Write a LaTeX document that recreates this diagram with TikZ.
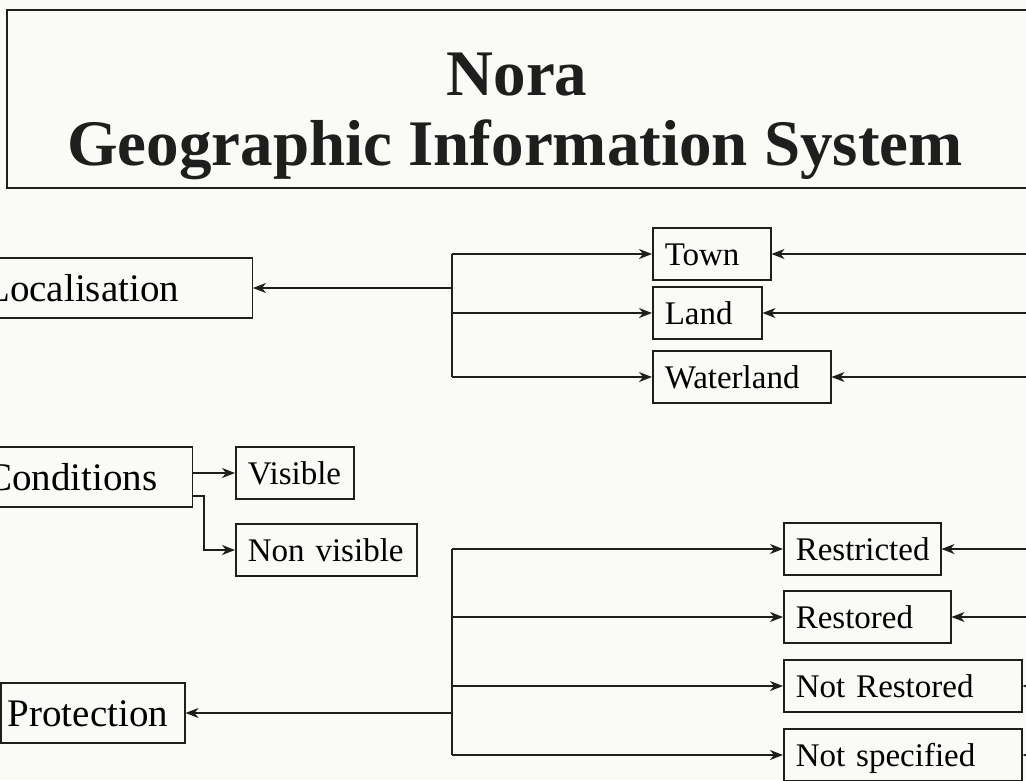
\documentclass[tikz,border=0pt]{standalone}
\usepackage{fontspec}
\setmainfont{Liberation Serif}
\usetikzlibrary{arrows.meta}
\definecolor{paper}{RGB}{250,250,246}
\definecolor{ink}{RGB}{30,30,30}

\begin{document}
\begin{tikzpicture}[
    x=1pt, y=-1pt,
    line/.style={draw=ink, line width=1.5pt},
    arr/.style={line, -{Stealth[length=13pt, width=10pt, inset=4pt]}},
    head/.style={draw=ink, line width=1.5pt, minimum height=60pt, inner xsep=7pt, text height=26pt, text depth=0pt, align=left, font=\fontsize{39}{44}\selectfont},
    item/.style={draw=ink, line width=1.5pt, minimum height=52pt, inner xsep=12pt, text height=22pt, text depth=0pt, align=left, font=\fontsize{33}{38}\selectfont},
    banner/.style={text=ink, font=\fontsize{65}{70}\selectfont\bfseries}
]
\useasboundingbox (0,0) rectangle (1026,780);
\clip (0,0) rectangle (1026,780);
\fill[paper] (0,0) rectangle (1026,780);

% title
\draw[draw=ink, line width=2.3pt] (7,10) rectangle (1060,188);
\node[banner, anchor=base] (nora) at (517,95) {Nora};
\node[banner, anchor=base] (gis) at (515,165) {Geographic Information System};

% left column
\node[head, anchor=east, text width=259pt] (loc) at (253,288) {Localisation};
\node[head, anchor=east, text width=199pt] (cond) at (193,477) {Conditions};
\node[head, anchor=west, text width=170pt] (prot) at (0,713) {Protection};

% localisation branches
\node[item, anchor=west, text width=94pt] (town) at (652,254) {Town};
\node[item, anchor=west, text width=85pt] (land) at (652,313) {Land};
\node[item, anchor=west, text width=154pt] (wat) at (652,377) {Waterland};

% condition branches
\node[item, anchor=west, text width=94pt] (vis) at (235,473) {Visible};
\node[item, anchor=west, text width=157pt] (nvis) at (235,550) {Non visible};

% protection branches
\node[item, anchor=west, text width=133pt] (rstr) at (783,549) {Restricted};
\node[item, anchor=west, text width=143pt] (rsto) at (783,617) {Restored};
\node[item, anchor=west, text width=214pt] (nrst) at (783,686) {Not Restored};
\node[item, anchor=west, text width=214pt] (nspc) at (783,755) {Not specified};

\coordinate (lb) at (452,288);
\coordinate (pb) at (452,713);
\coordinate (edge) at (1060,0);

\draw[arr] (lb) -- (loc);
\draw[line] (lb |- town.west) -- (lb |- wat.west);
\foreach \n in {town, land, wat} {
    \draw[arr] (lb |- \n.west) -- (\n.west);
    \draw[arr] (edge |- \n.east) -- (\n.east);
}

\draw[arr] (cond.east |- vis.west) -- (vis.west);
\draw[arr] ([yshift=-19pt]cond.east) -- ++(11,0) |- (nvis.west);

\draw[arr] (pb) -- (prot);
\draw[line] (pb |- rstr.west) -- (pb |- nspc.west);
\foreach \n in {rstr, rsto, nrst, nspc} {
    \draw[arr] (pb |- \n.west) -- (\n.west);
    \draw[arr] (edge |- \n.east) -- (\n.east);
}
\end{tikzpicture}
\end{document}
